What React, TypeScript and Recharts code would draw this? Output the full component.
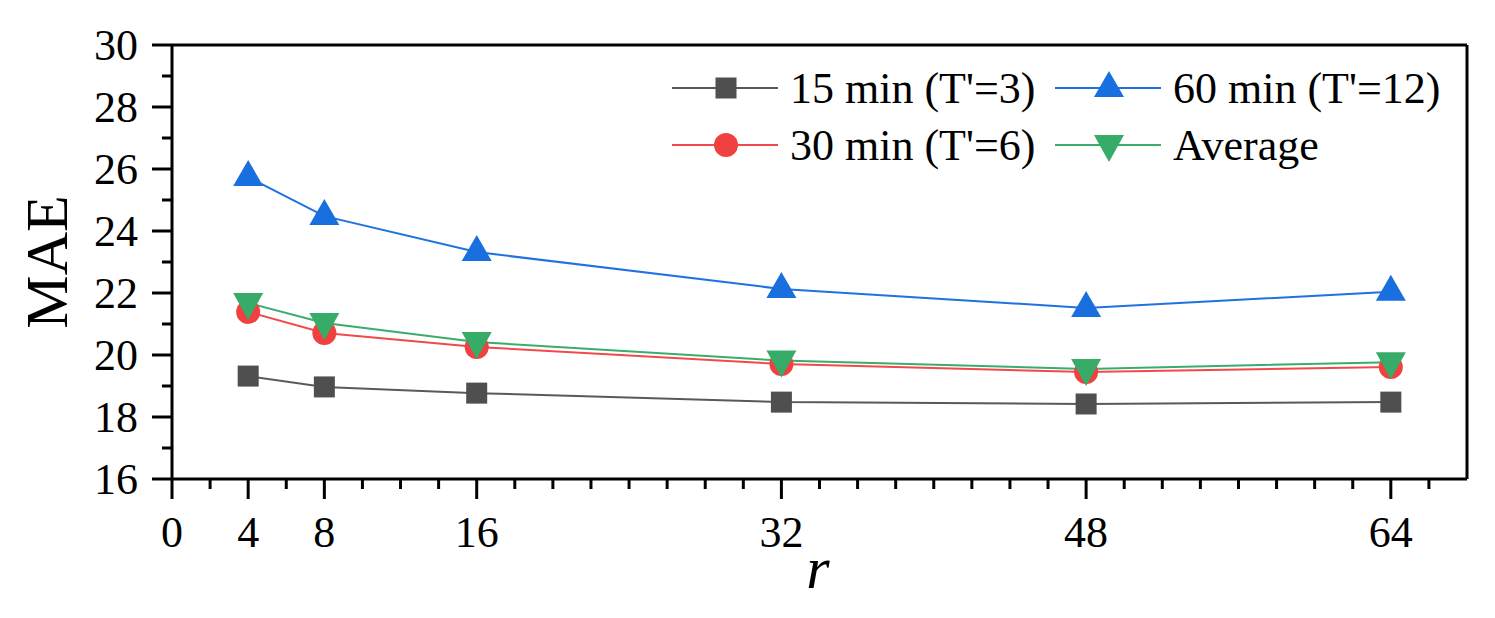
import React from "react";
import { LineChart, Line, XAxis, YAxis } from "recharts";

// r values on the x axis
const R_VALUES = [4, 8, 16, 32, 48, 64];
// MAE for each horizon
const MAE_15 = [19.32, 18.97, 18.77, 18.48, 18.42, 18.48];
const MAE_30 = [21.39, 20.71, 20.26, 19.71, 19.45, 19.61];
const MAE_60 = [25.74, 24.48, 23.32, 22.13, 21.52, 22.04];
const MAE_AVG = [21.68, 21.03, 20.42, 19.82, 19.55, 19.77];

const X_LABELS = [0, 4, 8, 16, 32, 48, 64];
const Y_LABELS = [16, 18, 20, 22, 24, 26, 28, 30];

const SERIES = [
  { key: "m15", name: "15 min (T'=3)", line: "#595959", fill: "#4f4f4f", shape: "square" },
  { key: "m30", name: "30 min (T'=6)", line: "#f24a4a", fill: "#f04040", shape: "circle" },
  { key: "m60", name: "60 min (T'=12)", line: "#1f72e0", fill: "#1a6fdf", shape: "up" },
  { key: "avg", name: "Average", line: "#3aad6c", fill: "#37ab68", shape: "down" },
];

const data = R_VALUES.map((r, i) => ({
  r,
  m15: MAE_15[i],
  m30: MAE_30[i],
  m60: MAE_60[i],
  avg: MAE_AVG[i],
}));

const xTicks = Array.from({ length: 34 }, (_, i) => i * 2);
const yTicks = Array.from({ length: 15 }, (_, i) => 16 + i);

const FONT = "'Liberation Serif', 'Times New Roman', Tinos, 'Nimbus Roman', 'Noto Serif', FreeSerif, Times, serif";
const W = 1495;
const H = 618;
const LEFT = 172;
const RIGHT = 1467;
const TOP = 45;
const BOTTOM = 479;

function marker(shape: string, cx: number, cy: number, fill: string, k?: string) {
  if (shape === "square")
    return <rect key={k} x={cx - 10.5} y={cy - 10.5} width={21} height={21} fill={fill} />;
  if (shape === "circle") return <circle key={k} cx={cx} cy={cy} r={12} fill={fill} />;
  if (shape === "up")
    return (
      <polygon key={k} points={`${cx},${cy - 17} ${cx + 15},${cy + 9} ${cx - 15},${cy + 9}`} fill={fill} />
    );
  return (
    <polygon key={k} points={`${cx - 15},${cy - 10} ${cx + 15},${cy - 10} ${cx},${cy + 17}`} fill={fill} />
  );
}

const makeDot = (shape: string, fill: string) => (props: any) => {
  const { cx, cy, index } = props;
  if (cx == null || cy == null) return <g key={index} />;
  return marker(shape, cx, cy, fill, `d${index}`);
};

const textStyle = { fontFamily: FONT };

const XTick = (props: any) => {
  const { x, payload } = props;
  const v = payload.value;
  const major = X_LABELS.includes(v);
  return (
    <g>
      <line x1={x} x2={x} y1={BOTTOM} y2={BOTTOM + (major ? 20 : 10)} stroke="#000" strokeWidth={3} />
      {major && (
        <text x={x} y={547} textAnchor="middle" style={textStyle} fontSize={44} fill="#000">
          {v}
        </text>
      )}
    </g>
  );
};

const YTick = (props: any) => {
  const { y, payload } = props;
  const v = payload.value;
  const major = Y_LABELS.includes(v);
  return (
    <g>
      <line x1={LEFT - (major ? 20 : 10)} x2={LEFT} y1={y} y2={y} stroke="#000" strokeWidth={3} />
      {major && (
        <text x={138} y={y + 15} textAnchor="end" style={textStyle} fontSize={44} fill="#000">
          {v}
        </text>
      )}
    </g>
  );
};

function LegendBox() {
  const rows = [
    [SERIES[0], SERIES[2]],
    [SERIES[1], SERIES[3]],
  ];
  const cols = [672, 1055];
  const rowY = [88, 145];
  return (
    <svg width={W} height={H} style={{ position: "absolute", left: 0, top: 0, pointerEvents: "none" }}>
      {rows.map((row, ri) =>
        row.map((s, ci) => {
          const x0 = cols[ci];
          const y = rowY[ri];
          return (
            <g key={s.key}>
              <line x1={x0} x2={x0 + 106} y1={y} y2={y} stroke={s.line} strokeWidth={2} />
              {marker(s.shape, x0 + 54, y, s.fill)}
              <text x={x0 + 118} y={y + 15} style={textStyle} fontSize={44} fill="#000">
                {s.name}
              </text>
            </g>
          );
        })
      )}
    </svg>
  );
}

export default function App() {
  return (
    <div style={{ position: "absolute", left: 0, top: 0, width: W, height: H, background: "#fff" }}>
      <LineChart
        width={W}
        height={H}
        data={data}
        margin={{ top: TOP - 1, right: W - RIGHT - 1, bottom: H - BOTTOM - 1, left: LEFT - 1 }}
      >
        <XAxis
          xAxisId="b"
          dataKey="r"
          type="number"
          domain={[0, 68]}
          ticks={xTicks}
          interval={0}
          height={1}
          tickLine={false}
          tick={<XTick />}
          axisLine={{ stroke: "#000", strokeWidth: 3 }}
        />
        <XAxis
          xAxisId="t"
          orientation="top"
          dataKey="r"
          type="number"
          domain={[0, 68]}
          height={1}
          tick={false}
          tickLine={false}
          axisLine={{ stroke: "#000", strokeWidth: 3 }}
        />
        <YAxis
          yAxisId="l"
          type="number"
          domain={[16, 30]}
          ticks={yTicks}
          interval={0}
          width={1}
          tickLine={false}
          tick={<YTick />}
          axisLine={{ stroke: "#000", strokeWidth: 3 }}
        />
        <YAxis
          yAxisId="r"
          orientation="right"
          type="number"
          domain={[16, 30]}
          width={1}
          tick={false}
          tickLine={false}
          axisLine={{ stroke: "#000", strokeWidth: 3 }}
        />
        {SERIES.map((s) => (
          <Line
            key={s.key}
            xAxisId="b"
            yAxisId="l"
            dataKey={s.key}
            name={s.name}
            stroke={s.line}
            strokeWidth={2}
            dot={makeDot(s.shape, s.fill)}
            activeDot={false}
            isAnimationActive={false}
          />
        ))}
      </LineChart>
      <LegendBox />
      <svg width={W} height={H} style={{ position: "absolute", left: 0, top: 0, pointerEvents: "none" }}>
        <text
          transform="translate(67,262) rotate(-90)"
          textAnchor="middle"
          style={textStyle}
          fontSize={60}
          fill="#000"
        >
          MAE
        </text>
        <text x={818} y={588} textAnchor="middle" style={textStyle} fontStyle="italic" fontSize={60} fill="#000">
          r
        </text>
      </svg>
    </div>
  );
}
